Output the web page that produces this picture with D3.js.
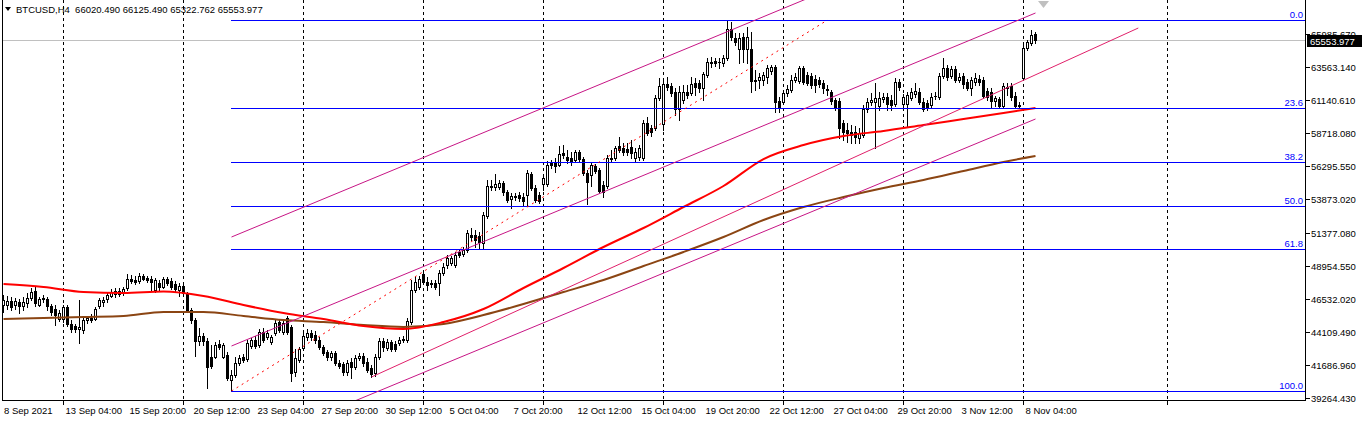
<!DOCTYPE html>
<html><head><meta charset="utf-8">
<script src="https://cdn.jsdelivr.net/npm/d3@7"></script>
<style>html,body{margin:0;padding:0;background:#fff;overflow:hidden}</style>
</head><body>
<svg id="c" width="1362" height="422"></svg>
<script>
// ---------- DATA (BTCUSD, H4 candles, index 0 = 8 Sep 2021) ----------
const openP = [46091,46091,46385,46091,46311,46018,46238,46605,47119,46091,
46531,46531,46018,45797,45063,45063,45944,44697,44550,44329,
44256,44990,45137,45063,46018,46311,46531,46752,46898,47119,
46972,47339,47999,47926,47852,48220,48073,47999,47192,47706,
47412,47999,47852,47632,47192,47486,46898,45724,44990,43449,
43816,43449,42274,42274,43228,42274,42420,40585,40952,41833,
42274,42127,43081,43522,43155,44109,43742,43375,44036,44843,
44109,45137,44476,41172,42053,42934,43742,44036,43889,43522,
43008,42641,42274,42567,41833,41759,41172,41906,41539,42200,
42347,41906,41466,41099,42274,43449,42934,43375,43228,43302,
43522,43522,44843,47192,47412,48366,47779,47706,47706,47706,
48440,49027,49174,49027,49982,49835,50128,51230,51230,51157,
50643,52624,54827,54753,54753,55047,54386,53872,54093,54166,
54019,54166,55707,54680,54166,54973,54973,56515,56588,56368,
57249,56955,56882,56735,57322,56808,55781,55634,56295,56001,
54900,54827,56808,56882,57763,57616,57543,57689,56882,56955,
56882,59452,59085,59085,61287,59378,62315,62168,61727,60479,
61140,61727,61654,62388,62388,62021,62975,63930,64003,63930,
63856,64223,66352,65692,64884,65765,64884,64884,62608,62608,
62608,62829,63269,63563,61066,60993,61654,61874,62608,62535,
63489,62975,62902,62682,62608,62388,61948,61727,61140,61066,
59452,58938,58791,58791,58351,58571,60479,60993,60993,60700,
61213,61360,61140,60846,62462,60846,60846,61287,61580,61727,
60993,60920,60773,61434,61360,62902,63489,62902,63416,62608,
62902,62462,62021,62462,62682,62608,61801,61727,61066,61213,
60700,62021,62168,61434,60773,62755,64957,65325,66020.49];

const highP = [46825,46752,46678,46605,46531,46678,46972,47339,47412,46678,
46825,46678,46164,46091,45724,46091,46091,44990,44697,46458,
45210,45284,45430,45944,46605,46678,46972,47265,47339,47339,
47412,48366,48293,48220,48440,48366,48220,48220,48073,47926,
48146,48146,48073,47852,47706,47706,47045,45871,45137,44403,
44036,43669,43155,43375,43522,43302,42641,41319,42274,42420,
42494,43522,43669,43816,44329,44403,44256,43889,44990,44990,
44990,45284,44623,42861,43008,44256,44329,44256,44183,43742,
43155,42787,42714,42714,42053,41906,42053,42200,42420,42567,
42567,42200,41686,42494,43669,43669,43596,43522,43449,43742,
43816,45137,47926,48146,48220,48513,48146,47926,47926,48660,
49174,49761,49688,49982,50202,50349,51597,51744,51597,51450,
52918,55267,55267,55707,55267,55194,54533,54313,54313,54386,
54313,56001,55854,54900,54386,55634,56662,56735,56882,57763,
57836,57469,57322,57469,57469,56955,56001,56515,56442,56148,
55194,57102,57469,57763,58424,57983,57983,58204,57616,57836,
59672,59892,59305,61507,62755,62608,62829,62388,62021,62168,
62241,62241,62829,62755,62608,63196,64223,64297,64223,64223,
64443,67013,66866,66059,66059,66059,66499,66132,63342,63122,
63196,63709,63709,63709,61360,61874,62241,62975,63122,63636,
63636,63196,63122,62975,62829,62608,62241,61874,61287,61287,
59672,59452,59305,59232,59085,60773,61287,61654,62388,61727,
61654,61654,61507,62755,62682,61580,61727,62021,62388,62021,
61287,61140,61654,61727,63122,64223,63709,63636,63636,63122,
63122,62682,62829,63122,62975,62829,62021,62021,61434,61360,
62388,62388,62388,61727,60993,65178,65545,66279,66125.49];

const lowP = [45577,45797,45724,45797,45504,45724,45944,46458,46018,46018,
46311,45724,45357,44623,44917,44843,44550,44109,44109,43302,
44036,44770,44843,44990,45871,46018,46311,46678,46678,46752,
46825,47192,47706,47632,47706,47926,47779,47192,47045,47192,
47339,47559,47265,47119,46752,46825,45577,44770,42347,43155,
43155,39998,41466,42200,42861,42200,40585,39778,40805,41686,
41906,41980,42934,42934,43008,43375,43596,43228,43889,44109,
43962,43962,40512,40879,41906,42787,43522,43522,43302,42861,
42420,42053,42053,41686,41466,40952,40952,40732,41392,42053,
41613,41172,40805,40879,42127,42714,42787,42714,42714,43155,
43375,43375,44697,47045,47265,47632,47192,47412,47265,46825,
48293,48807,49027,48880,49614,49688,49982,50863,50349,50276,
50276,52478,54533,54533,54606,54166,53652,53212,53799,53725,
53432,53432,54533,53652,53579,54533,54827,56148,55854,56295,
56882,56515,56368,56588,56588,55634,53505,54827,55781,54313,
54019,54680,56588,56735,57322,57102,57102,56882,56588,56735,
56735,58571,58497,58938,61140,58938,61874,61434,60039,59672,
60920,61287,61507,61507,61727,61140,62829,63563,63636,63489,
63636,64076,65545,65178,63856,63930,63856,61727,61874,62021,
62241,62388,63049,60259,60259,60846,61434,61727,62462,62388,
62315,62241,62021,61727,62094,61654,61507,60846,60406,58351,
58204,58057,57983,57983,57983,58424,60259,60773,57616,60406,
60993,60406,60406,60700,61874,60626,59158,61140,61360,60846,
60333,60406,60553,61213,61213,62755,62608,62755,62462,62462,
62021,61874,61507,62241,62241,61287,61140,60626,60700,60553,
60553,61507,61140,60553,60553,62608,64810,65178,65322.762];

const closeP = [46458,46385,45944,46385,46018,46311,46605,47045,46238,46531,
46605,46018,45577,45357,45504,45944,44697,44329,44329,44476,
44990,45137,44990,45797,46458,46458,46825,47045,47119,46898,
47265,47999,47852,47779,48220,47999,47926,47779,47926,47412,
47999,47706,47412,47265,47486,46972,45724,44990,43449,43816,
43449,41539,41613,43155,43008,43155,40732,40952,41833,42200,
42053,43302,43522,43081,44109,43522,44036,43742,44770,44256,
44770,44109,41099,42200,42861,43816,44036,43742,43522,43008,
42567,42274,42567,41833,41613,41172,41833,41539,42200,42347,
41833,41319,41025,42274,43449,43008,43375,42861,42861,43522,
43596,44917,47192,47779,47999,47779,47559,47632,47412,48440,
48880,49541,49541,49761,49761,50128,51377,51083,50863,50716,
52698,54827,54780,54973,55047,54386,53799,54093,54019,53946,
53725,55781,54680,53799,53725,55414,56368,56368,56295,57175,
57102,56735,56588,57322,56808,55781,55120,56368,55928,54459,
54386,56882,56882,57616,57469,57322,57322,57249,57322,57616,
59452,58718,58791,61287,62168,62315,62094,61654,60479,61727,
61727,61507,62315,62094,62021,63049,63930,63856,63856,63900,
64223,66352,65765,65398,65692,64884,65765,62535,62535,62829,
62975,63489,63563,60993,60553,61654,61948,62608,62829,63489,
62462,62388,62241,62241,62315,62021,61874,61066,60553,59085,
58791,58718,58571,58424,58718,60479,60993,61140,61287,61287,
61360,60846,60773,62462,62094,61360,61507,61727,61801,60993,
60479,60553,61360,61400,62902,63489,62829,63416,62608,62829,
62315,62021,62608,62755,62462,61434,61360,61066,61287,60700,
62168,62094,61360,60700,60700,64957,65398,65912,65553.977];

// Moving averages (sampled at bar indices)
const maBars = [0,10,20,30,40,50,60,70,80,90,100,110,120,130,140,150,160,170,180,190,200,210,220,230,240,250,258];
const maRed  = [47632,47412,47045,46972,47082,46752,46091,45504,45063,44550,44329,44843,45797,47339,48807,50349,51744,53285,54827,56808,57836,58497,58865,59305,59745,60186,60553];
const maBrown= [45063,45137,45210,45284,45577,45577,45284,44990,44843,44623,44476,44697,45357,46164,47045,47926,48954,49982,51083,52331,53285,54019,54680,55267,55928,56588,57028];

// Time axis
const timeLabels = ["8 Sep 2021","13 Sep 04:00","15 Sep 20:00","20 Sep 12:00","23 Sep 04:00","27 Sep 20:00","30 Sep 12:00","5 Oct 04:00","7 Oct 20:00","12 Oct 12:00","15 Oct 04:00","19 Oct 20:00","22 Oct 12:00","27 Oct 04:00","29 Oct 20:00","3 Nov 12:00","8 Nov 04:00"];
const timeLabelBars = [0,15,31,47,63,79,95,111,127,143,159,175,191,207,223,239,255];
const gridBars = [15,45,75,105,135,165,195,225,255,291];

// Price axis
const priceTicks = [65985.670,63563.140,61140.610,58718.080,56295.550,53873.020,51377.080,48954.550,46532.020,44109.490,41686.960,39264.430];
const bidPrice = 65553.977;
const headerText = "BTCUSD,H4  66020.490 66125.490 65322.762 65553.977";

// Fibonacci retracement
const fibLevels = [0, 23.6, 38.2, 50, 61.8, 100];
const fibHigh = 67013, fibLow = 39778, fibStartBar = 57, fibEndBar = 206;

// Channel / trend lines: [bar, price]
const channelTop = [[57, 51083], [258, 75528]];
const channelMid = [[57, 43081], [258, 67527]];
const channelLow = [[57, 35299], [258, 59745]];
const trendLine  = [[92, 40805], [283.7, 66425]];

// ---------- DRAW ----------
const FONT = '"Liberation Sans", Arial, sans-serif';
const svg = d3.select('#c');
const x = d3.scaleLinear().domain([0, 1]).range([3.5, 7.5]);
const y = d3.scaleLinear().domain([39264.43, 65985.67]).range([398, 34]);
const py = v => Math.round(y(v)) + 0.5;

svg.append('rect').attr('width', 1362).attr('height', 422).attr('fill', '#fff');
svg.append('defs').append('clipPath').attr('id', 'plot')
  .append('rect').attr('x', 3).attr('y', 0).attr('width', 1302).attr('height', 400);
const plot = svg.append('g').attr('clip-path', 'url(#plot)');

// vertical dashed grid
plot.append('g').selectAll('line').data(gridBars).join('line')
  .attr('x1', d => x(d)).attr('x2', d => x(d)).attr('y1', 0).attr('y2', 400)
  .attr('stroke', '#000').attr('stroke-dasharray', '3,3').attr('shape-rendering', 'crispEdges');

// bid line
plot.append('line').attr('x1', 3).attr('x2', 1305).attr('y1', py(bidPrice)).attr('y2', py(bidPrice))
  .attr('stroke', '#c0c0c0').attr('shape-rendering', 'crispEdges');

// candles
const cg = plot.append('g').attr('shape-rendering', 'crispEdges');
openP.forEach((o, i) => {
  const h = highP[i], l = lowP[i], c = closeP[i];
  const xc = x(i);
  const hi = Math.max(h, o, c), lo = Math.min(l, o, c);
  cg.append('line').attr('x1', xc).attr('x2', xc)
    .attr('y1', Math.round(y(hi))).attr('y2', Math.round(y(lo)) + 1).attr('stroke', '#000');
  const top = Math.round(y(Math.max(o, c))), bot = Math.round(y(Math.min(o, c)));
  if (bot - top < 1) {
    cg.append('rect').attr('x', xc - 1.5).attr('y', top).attr('width', 3).attr('height', 1).attr('fill', '#000');
  } else if (c >= o) {
    cg.append('rect').attr('x', xc - 1).attr('y', top + 0.5).attr('width', 2).attr('height', bot - top)
      .attr('fill', '#fff').attr('stroke', '#000');
  } else {
    cg.append('rect').attr('x', xc - 1.5).attr('y', top).attr('width', 3).attr('height', bot - top + 1).attr('fill', '#000');
  }
});

// moving averages
const maLine = d3.line().curve(d3.curveMonotoneX).x(d => x(d[0])).y(d => y(d[1]));
plot.append('path').attr('d', maLine(maBars.map((b, k) => [b, maBrown[k]])))
  .attr('fill', 'none').attr('stroke', '#8b4513').attr('stroke-width', 2);
plot.append('path').attr('d', maLine(maBars.map((b, k) => [b, maRed[k]])))
  .attr('fill', 'none').attr('stroke', '#ff0000').attr('stroke-width', 2);

// fibonacci levels
const fibPrice = lv => fibHigh - (fibHigh - fibLow) * lv / 100;
plot.append('g').selectAll('line').data(fibLevels).join('line')
  .attr('x1', x(fibStartBar) - 0.5).attr('x2', 1305)
  .attr('y1', d => py(fibPrice(d))).attr('y2', d => py(fibPrice(d)))
  .attr('stroke', '#0000ff').attr('shape-rendering', 'crispEdges');
plot.append('g').selectAll('text').data(fibLevels).join('text')
  .attr('x', 1303).attr('y', d => Math.round(y(fibPrice(d))) - 2)
  .attr('text-anchor', 'end').attr('font-family', FONT).attr('font-size', 9.5)
  .attr('fill', '#0000ff').text(d => d.toFixed(1));

// channel lines
const tl = d3.line().x(d => x(d[0])).y(d => y(d[1]));
[channelTop, channelMid, channelLow].forEach(ln => {
  plot.append('path').attr('d', tl(ln)).attr('fill', 'none').attr('stroke', '#c71585').attr('stroke-width', 1);
});
plot.append('path').attr('d', tl(trendLine)).attr('fill', 'none').attr('stroke', '#e0206a').attr('stroke-width', 1);
// fibonacci diagonal
plot.append('path').attr('d', tl([[fibStartBar, fibLow], [fibEndBar, fibHigh]]))
  .attr('fill', 'none').attr('stroke', '#ff0000').attr('stroke-width', 1).attr('stroke-dasharray', '2,4');

// chart shift marker
svg.append('path').attr('d', 'M1038,1 L1049,1 L1043.5,8 Z').attr('fill', '#c0c0c0');

// frame
const fr = svg.append('g').attr('stroke', '#000').attr('shape-rendering', 'crispEdges');
fr.append('line').attr('x1', 2.5).attr('x2', 2.5).attr('y1', 0).attr('y2', 401);
fr.append('line').attr('x1', 1305.5).attr('x2', 1305.5).attr('y1', 0).attr('y2', 401);
fr.append('line').attr('x1', 2).attr('x2', 1306).attr('y1', 400.5).attr('y2', 400.5);

// price axis
const pa = svg.append('g');
pa.selectAll('line').data(priceTicks).join('line')
  .attr('x1', 1306).attr('x2', 1310).attr('y1', d => py(d)).attr('y2', d => py(d))
  .attr('stroke', '#000').attr('shape-rendering', 'crispEdges');
pa.selectAll('text').data(priceTicks).join('text')
  .attr('x', 1311).attr('y', d => Math.round(y(d)) + 4)
  .attr('font-family', FONT).attr('font-size', 9.5).attr('fill', '#000')
  .text(d => d.toFixed(3));
// bid label (covers the top tick label as in the terminal)
svg.append('rect').attr('x', 1307).attr('y', Math.round(y(bidPrice)) - 5).attr('width', 55).attr('height', 12).attr('fill', '#000');
svg.append('text').attr('x', 1310).attr('y', Math.round(y(bidPrice)) + 4.5)
  .attr('font-family', FONT).attr('font-size', 9.5).attr('fill', '#fff').text(bidPrice.toFixed(3));

// time axis
const ta = svg.append('g');
ta.selectAll('line').data(gridBars).join('line')
  .attr('x1', d => x(d)).attr('x2', d => x(d)).attr('y1', 401).attr('y2', 405)
  .attr('stroke', '#000').attr('shape-rendering', 'crispEdges');
ta.selectAll('text').data(timeLabels).join('text')
  .attr('x', (d, k) => k === 0 ? 4 : x(timeLabelBars[k]) + 2)
  .attr('y', 414).attr('font-family', FONT).attr('font-size', 9.5).attr('fill', '#000')
  .text(d => d);

// header
svg.append('path').attr('d', 'M5,7 L11,7 L8,11 Z').attr('fill', '#000');
svg.append('text').attr('x', 16).attr('y', 13).attr('font-family', FONT).attr('font-size', 9.5)
  .attr('fill', '#000').attr('xml:space', 'preserve').style('white-space', 'pre').text(headerText);
</script>
</body></html>
